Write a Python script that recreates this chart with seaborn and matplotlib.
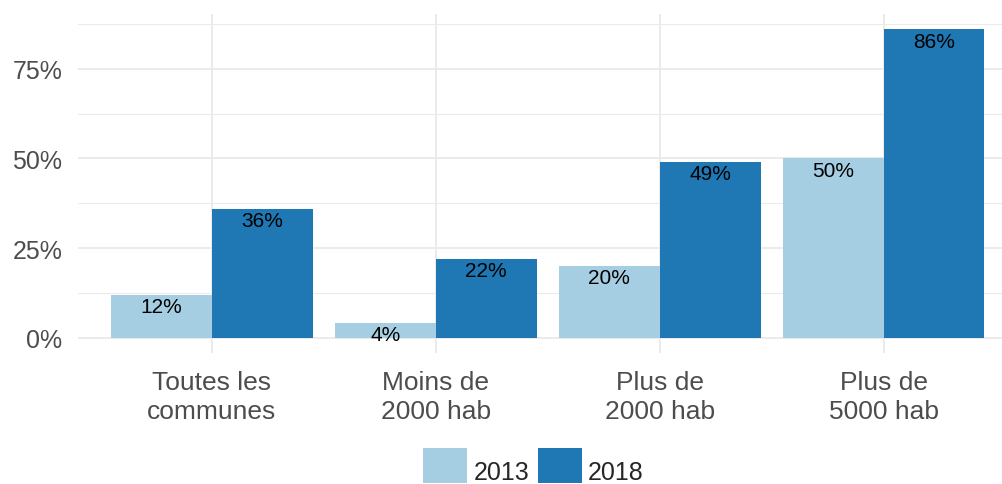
import matplotlib
matplotlib.use("Agg")
import matplotlib.pyplot as plt
import seaborn as sns
import pandas as pd
from matplotlib.ticker import FixedLocator, PercentFormatter
from matplotlib.patches import Patch

# ── données ──
categories = ["Toutes les\ncommunes", "Moins de\n2000 hab", "Plus de\n2000 hab", "Plus de\n5000 hab"]
years = ["2013", "2018"]
values_2013 = [0.12, 0.04, 0.20, 0.50]
values_2018 = [0.36, 0.22, 0.49, 0.86]
colors = ["#a6cee3", "#1f78b4"]

df = pd.DataFrame({
    "categorie": categories * 2,
    "annee": [years[0]] * 4 + [years[1]] * 4,
    "taux": values_2013 + values_2018,
})

sns.set_style("white")
plt.rcParams["font.family"] = ["Liberation Sans", "DejaVu Sans"]

fig = plt.figure(figsize=(10.03, 4.85), dpi=100)
ax = fig.add_axes([0.0774, 0.270, 0.9376, 0.699])

sns.barplot(data=df, x="categorie", y="taux", hue="annee", order=categories,
            hue_order=years, palette=colors, width=0.9, gap=0,
            saturation=1, ax=ax, legend=False, zorder=2)

# étiquettes à l'intérieur du haut des barres
for c in ax.containers:
    for p in c:
        p.set_edgecolor("none")
        ax.annotate(f"{p.get_height():.0%}",
                    (p.get_x() + p.get_width() / 2, p.get_height()),
                    xytext=(0, -1.5), textcoords="offset points",
                    ha="center", va="top", fontsize=15, color="black", zorder=3)

ymax = max(values_2018)
ax.set_ylim(-0.05 * ymax, ymax * 1.05)
ax.set_xlim(-0.6, 3.6)
ax.yaxis.set_major_locator(FixedLocator([0, 0.25, 0.5, 0.75]))
ax.yaxis.set_minor_locator(FixedLocator([0.125, 0.375, 0.625, 0.875]))
ax.yaxis.set_major_formatter(PercentFormatter(1.0, decimals=0))

ax.grid(True, which="major", axis="both", color="#ebebeb", lw=1.4, zorder=0)
ax.grid(True, which="minor", axis="y", color="#ebebeb", lw=0.8, zorder=0)
ax.set_axisbelow(True)
for s in ax.spines.values():
    s.set_visible(False)
ax.tick_params(axis="both", which="both", length=0, labelcolor="#4d4d4d")
ax.tick_params(axis="y", pad=11, labelsize=18)
ax.tick_params(axis="x", pad=12, labelsize=19)
for t in ax.get_xticklabels():
    t.set_linespacing(1.28)
ax.set_xlabel("")
ax.set_ylabel("")

handles = [Patch(facecolor=col, edgecolor="none", label=y) for col, y in zip(colors, years)]
leg = fig.legend(handles=handles, loc="upper center", bbox_to_anchor=(0.532, 0.0742),
                 ncol=2, frameon=False, fontsize=18, handlelength=1.76, handleheight=1.76,
                 handletextpad=0.25, columnspacing=0.35, borderpad=0, borderaxespad=0)
for t in leg.get_texts():
    t.set_y(-6)

fig.savefig("out.png", dpi=100)
